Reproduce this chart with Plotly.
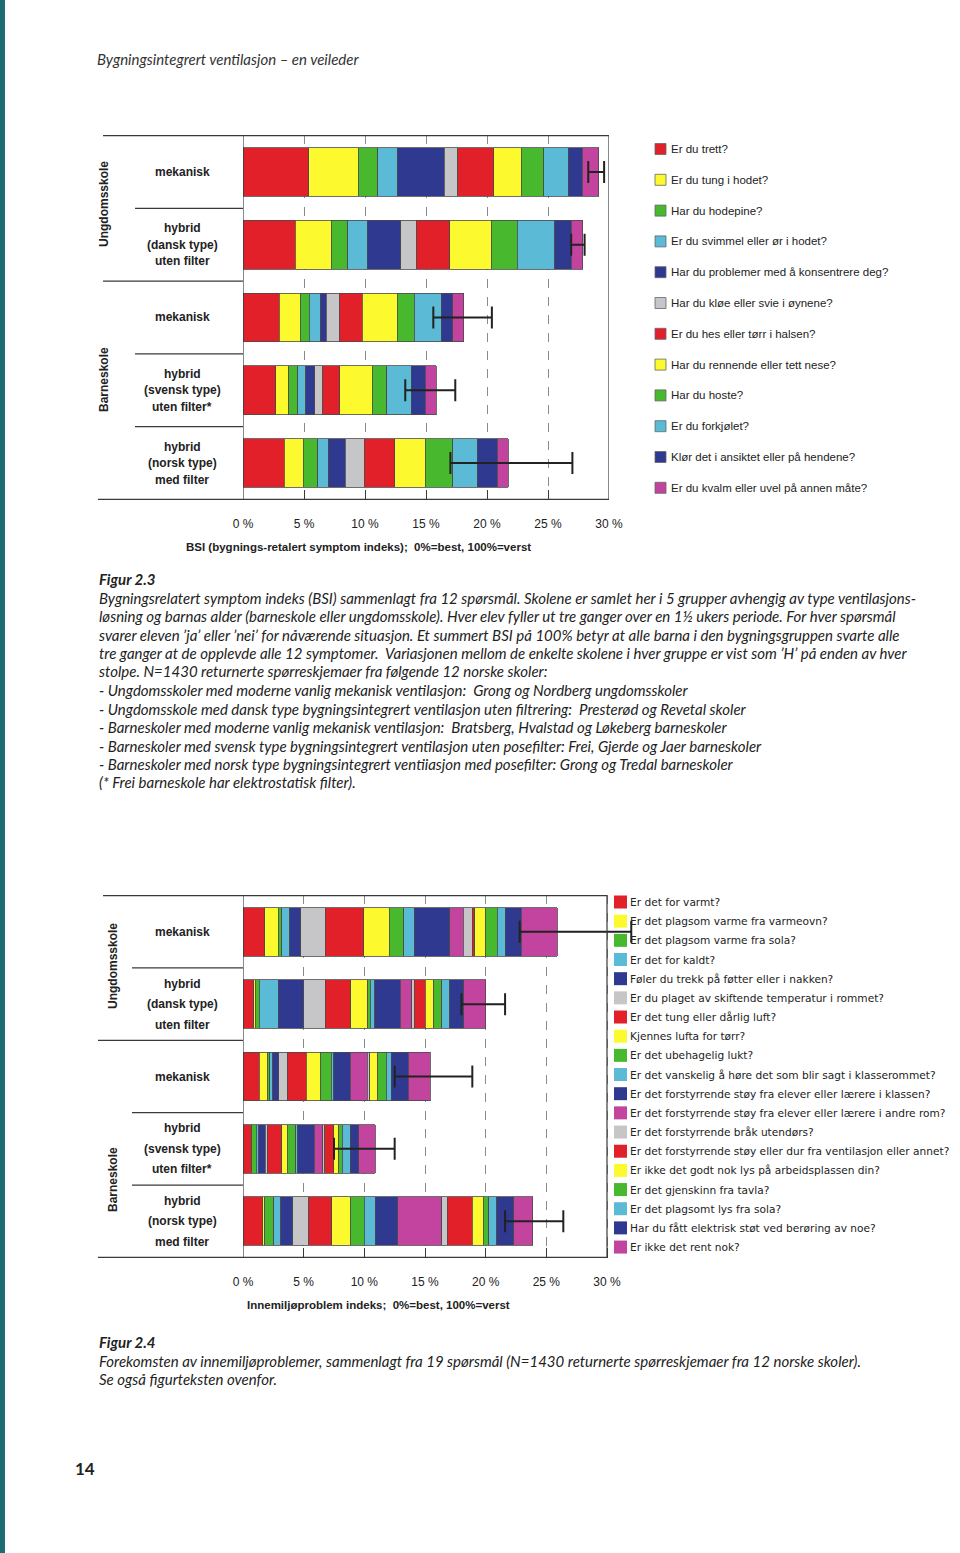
import plotly.graph_objects as go

W, H = 960, 1553

# ---------------- data ----------------
groups = ["U-mekanisk", "U-hybrid-dansk", "B-mekanisk", "B-hybrid-svensk", "B-hybrid-norsk"]
group_lines = [["mekanisk"], ["hybrid", "(dansk type)", "uten filter"], ["mekanisk"],
               ["hybrid", "(svensk type)", "uten filter*"], ["hybrid", "(norsk type)", "med filter"]]
school_levels = ["Ungdomsskole", "Barneskole"]

RED, YEL, GRN, CYA, BLU, GRY, MAG = "#E2202A", "#FCFA2E", "#48B92E", "#5BBAD5", "#2F3990", "#C6C6C8", "#C2449F"

# Figur 2.3 – BSI, % per symptom (order of groups above)
bsi_questions = ["Er du trett?", "Er du tung i hodet?", "Har du hodepine?", "Er du svimmel eller ør i hodet?",
                 "Har du problemer med å konsentrere deg?", "Har du kløe eller svie i øynene?",
                 "Er du hes eller tørr i halsen?", "Har du rennende eller tett nese?", "Har du hoste?",
                 "Er du forkjølet?", "Klør det i ansiktet eller på hendene?", "Er du kvalm eller uvel på annen måte?"]
bsi_colors = [RED, YEL, GRN, CYA, BLU, GRY, RED, YEL, GRN, CYA, BLU, MAG]
bsi_trett = [5.39, 4.27, 2.96, 2.68, 3.39]
bsi_tung = [4.07, 2.96, 1.75, 1.09, 1.56]
bsi_hodepine = [1.59, 1.37, 0.71, 0.71, 1.18]
bsi_svimmel = [1.58, 1.58, 0.90, 0.68, 0.87]
bsi_konsentrere = [3.86, 2.73, 0.49, 0.74, 1.37]
bsi_oyne = [1.12, 1.31, 1.09, 0.63, 1.56]
bsi_hals = [2.96, 2.74, 1.86, 1.40, 2.52]
bsi_nese = [2.24, 3.37, 2.90, 2.65, 2.49]
bsi_hoste = [1.86, 2.13, 1.37, 1.21, 2.27]
bsi_forkjolet = [2.00, 3.09, 2.22, 1.99, 2.00]
bsi_klor = [1.15, 1.35, 0.96, 1.15, 1.64]
bsi_kvalm = [1.34, 0.93, 0.90, 0.90, 0.88]
bsi_series = [bsi_trett, bsi_tung, bsi_hodepine, bsi_svimmel, bsi_konsentrere, bsi_oyne,
              bsi_hals, bsi_nese, bsi_hoste, bsi_forkjolet, bsi_klor, bsi_kvalm]
bsi_school_min = [28.3, 26.9, 15.6, 13.3, 17.0]
bsi_school_max = [29.6, 28.0, 20.4, 17.4, 27.0]

# Figur 2.4 – innemiljøproblem, % per question
inne_questions = ["Er det for varmt?", "Er det plagsom varme fra varmeovn?", "Er det plagsom varme fra sola?",
                  "Er det for kaldt?", "Føler du trekk på føtter eller i nakken?",
                  "Er du plaget av skiftende temperatur i rommet?", "Er det tung eller dårlig luft?",
                  "Kjennes lufta for tørr?", "Er det ubehagelig lukt?",
                  "Er det vanskelig å høre det som blir sagt i klasserommet?",
                  "Er det forstyrrende støy fra elever eller lærere i klassen?",
                  "Er det forstyrrende støy fra elever eller lærere i andre rom?",
                  "Er det forstyrrende bråk utendørs?", "Er det forstyrrende støy eller dur fra ventilasjon eller annet?",
                  "Er ikke det godt nok lys på arbeidsplassen din?", "Er det gjenskinn fra tavla?",
                  "Er det plagsomt lys fra sola?", "Har du fått elektrisk støt ved berøring av noe?",
                  "Er ikke det rent nok?"]
inne_colors = [RED, YEL, GRN, CYA, BLU, GRY, RED, YEL, GRN, CYA, BLU, MAG, GRY, RED, YEL, GRN, CYA, BLU, MAG]
inne_varmt = [1.81, 0.88, 1.34, 0.66, 1.62]
inne_varmeovn = [1.10, 0.11, 0.66, 0.08, 0.19]
inne_varme_sol = [0.27, 0.33, 0.19, 0.36, 0.71]
inne_kaldt = [0.66, 1.59, 0.25, 0.19, 0.60]
inne_trekk = [0.93, 2.09, 0.52, 0.55, 0.99]
inne_skiftende = [2.00, 1.78, 0.69, 0.14, 1.32]
inne_tung_luft = [3.18, 2.09, 1.56, 1.21, 1.87]
inne_torr = [2.09, 1.40, 1.15, 0.44, 1.54]
inne_lukt = [1.21, 0.22, 0.93, 0.71, 1.15]
inne_hore = [0.85, 0.38, 0.19, 0.19, 0.91]
inne_stoy_klasse = [2.94, 2.11, 1.37, 1.34, 1.84]
inne_stoy_andre = [1.10, 0.91, 1.40, 0.71, 3.62]
inne_brak_ute = [0.74, 0.22, 0.16, 0.16, 0.47]
inne_stoy_vent = [0.22, 0.91, 0.05, 0.74, 2.06]
inne_lys = [0.91, 0.69, 0.66, 0.41, 0.91]
inne_gjenskinn = [0.93, 0.66, 0.69, 0.27, 0.47]
inne_lys_sol = [0.66, 0.69, 0.41, 0.66, 0.66]
inne_stot = [1.34, 1.12, 1.40, 0.71, 1.37]
inne_rent = [2.96, 1.81, 1.81, 1.37, 1.56]
inne_series = [inne_varmt, inne_varmeovn, inne_varme_sol, inne_kaldt, inne_trekk, inne_skiftende,
               inne_tung_luft, inne_torr, inne_lukt, inne_hore, inne_stoy_klasse, inne_stoy_andre,
               inne_brak_ute, inne_stoy_vent, inne_lys, inne_gjenskinn, inne_lys_sol, inne_stot, inne_rent]
inne_school_min = [22.8, 18.0, 12.5, 7.5, 21.6]
inne_school_max = [32.0, 21.6, 18.9, 12.5, 26.4]

tick_vals = [0, 5, 10, 15, 20, 25, 30]
tick_text = ["0 %", "5 %", "10 %", "15 %", "20 %", "25 %", "30 %"]

caption1 = [
    "Bygningsrelatert symptom indeks (BSI) sammenlagt fra 12 spørsmål. Skolene er samlet her i 5 grupper avhengig av type ventilasjons-",
    "løsning og barnas alder (barneskole eller ungdomsskole). Hver elev fyller ut tre ganger over en 1½ ukers periode. For hver spørsmål",
    "svarer eleven ’ja’ eller ’nei’ for nåværende situasjon. Et summert BSI på 100% betyr at alle barna i den bygningsgruppen svarte alle",
    "tre ganger at de opplevde alle 12 symptomer.  Variasjonen mellom de enkelte skolene i hver gruppe er vist som ’H’ på enden av hver",
    "stolpe. N=1430 returnerte spørreskjemaer fra følgende 12 norske skoler:",
    "- Ungdomsskoler med moderne vanlig mekanisk ventilasjon:  Grong og Nordberg ungdomsskoler",
    "- Ungdomsskole med dansk type bygningsintegrert ventilasjon uten filtrering:  Presterød og Revetal skoler",
    "- Barneskoler med moderne vanlig mekanisk ventilasjon:  Bratsberg, Hvalstad og Løkeberg barneskoler",
    "- Barneskoler med svensk type bygningsintegrert ventilasjon uten posefilter: Frei, Gjerde og Jaer barneskoler",
    "- Barneskoler med norsk type bygningsintegrert ventiiasjon med posefilter: Grong og Tredal barneskoler",
    "(* Frei barneskole har elektrostatisk filter).",
]
caption2 = [
    "Forekomsten av innemiljøproblemer, sammenlagt fra 19 spørsmål (N=1430 returnerte spørreskjemaer fra 12 norske skoler).",
    "Se også figurteksten ovenfor.",
]

# ---------------- helpers ----------------
def px(x):
    return x / W

def py(y):
    return 1 - y / H

LINE = "#3a3a3a"
TXT = "#222222"
ARIAL = "Liberation Sans, Arial, sans-serif"
CAPF = "Lato, sans-serif"

fig = go.Figure()
shapes, annos = [], []

charts = [
    dict(series=bsi_series, colors=bsi_colors, qs=bsi_questions, lo=bsi_school_min, hi=bsi_school_max,
         xa="x", ya="y", xr=[0, 30], x0=243, x30=609, top=135, bot=500,
         title="BSI (bygnings-retalert symptom indeks);  0%=best, 100%=verst", title_x=358, title_y=547,
         short_x=135, long_x=103, lvl_x=104, lvl_y=[204, 380], line_gap=16.5,
         leg_sq_x=655, leg_sq=11, leg_y0=149, leg_step=30.8, leg_font=11.5,
         leg_family=ARIAL, leg_outline=True),
    dict(series=inne_series, colors=inne_colors, qs=inne_questions, lo=inne_school_min, hi=inne_school_max,
         xa="x2", ya="y2", xr=[0, 32.5], x0=243, x30=607, top=895, bot=1258,
         title="Innemiljøproblem indeks;  0%=best, 100%=verst", title_x=378, title_y=1305,
         short_x=132, long_x=103, lvl_x=113, lvl_y=[966, 1180], line_gap=20.5,
         leg_sq_x=614, leg_sq=13, leg_y0=902, leg_step=19.17, leg_font=10.6,
         leg_family="DejaVu Sans, Verdana, sans-serif", leg_outline=False),
]

for ci, c in enumerate(charts):
    totals = [sum(s[i] for s in c["series"]) for i in range(len(groups))]
    for name, vals, col in zip(c["qs"], c["series"], c["colors"]):
        fig.add_trace(go.Bar(x=vals, y=groups, orientation="h", name=name,
                             marker=dict(color=col, line=dict(color="#4a4a4a", width=0.8)),
                             xaxis=c["xa"], yaxis=c["ya"], showlegend=False))
    fig.add_trace(go.Scatter(x=totals, y=groups, mode="markers", xaxis=c["xa"], yaxis=c["ya"],
                             marker=dict(size=2, opacity=0), showlegend=False, cliponaxis=False,
                             error_x=dict(type="data", symmetric=False,
                                          array=[h - t for h, t in zip(c["hi"], totals)],
                                          arrayminus=[t - l for t, l in zip(totals, c["lo"])],
                                          color="#222222", thickness=2, width=11)))

    ppp = (c["x30"] - c["x0"]) / 30.0
    dom_r = c["x0"] + c["xr"][1] * ppp
    ax_key = "xaxis" if ci == 0 else "xaxis2"
    ay_key = "yaxis" if ci == 0 else "yaxis2"
    fig.update_layout({
        ax_key: dict(domain=[px(c["x0"]), px(dom_r)], range=c["xr"], anchor=c["ya"], automargin=False,
                     tickvals=tick_vals, ticktext=tick_text, ticks="inside", ticklen=10,
                     tickcolor=LINE, tickwidth=1, ticklabelstandoff=15,
                     showgrid=True, gridcolor="#8a8a8a", griddash="dash", gridwidth=1,
                     showline=False, zeroline=False,
                     tickfont=dict(family=ARIAL, size=12, color=TXT)),
        ay_key: dict(domain=[py(c["bot"]), py(c["top"])], type="category", categoryarray=groups,
                     categoryorder="array", autorange="reversed", showticklabels=False, automargin=False,
                     ticks="", showgrid=False, zeroline=False, showline=False, anchor=c["xa"]),
    })

    yref = c["ya"]
    xref = c["xa"]
    # plot frame
    for (xx0, yy0, xx1, yy1) in [(0, -0.5, 30, -0.5), (0, 4.5, 30, 4.5), (0, -0.5, 0, 4.5), (30, -0.5, 30, 4.5)]:
        shapes.append(dict(type="line", xref=xref, yref=yref, x0=xx0, x1=xx1, y0=yy0, y1=yy1,
                           line=dict(color=LINE, width=1.2)))
    # table lines on the left
    table = [(-0.5, c["long_x"]), (0.5, c["short_x"]), (1.5, 98 if ci == 1 else c["long_x"]),
             (2.5, c["short_x"]), (3.5, c["short_x"]), (4.5, 98)]
    for yy, xs in table:
        shapes.append(dict(type="line", xref="paper", yref=yref, x0=px(xs), x1=px(c["x0"]), y0=yy, y1=yy,
                           line=dict(color=LINE, width=1.2)))
    # group labels
    for gi, lines in enumerate(group_lines):
        n = len(lines)
        for li, t in enumerate(lines):
            annos.append(dict(text=t, xref="paper", yref=yref, x=px(182), y=gi,
                              yshift=-(li - (n - 1) / 2) * c["line_gap"], showarrow=False,
                              xanchor="center", yanchor="middle",
                              font=dict(family=ARIAL, size=12, color=TXT, weight="bold")))
    for lv, ycen in zip(school_levels, c["lvl_y"]):
        annos.append(dict(text=lv, xref="paper", yref="paper", x=px(c["lvl_x"]), y=py(ycen),
                          textangle=-90, showarrow=False, xanchor="center", yanchor="middle",
                          font=dict(family=ARIAL, size=12, color=TXT, weight="bold")))
    # axis title
    annos.append(dict(text=c["title"], xref="paper", yref="paper", x=px(c["title_x"]), y=py(c["title_y"]),
                      showarrow=False, xanchor="center", yanchor="middle",
                      font=dict(family=ARIAL, size=11.5, color=TXT, weight="bold")))
    # legend
    s = c["leg_sq"]
    for k, (q, col) in enumerate(zip(c["qs"], c["colors"])):
        yc = c["leg_y0"] + k * c["leg_step"]
        shapes.append(dict(type="rect", xref="paper", yref="paper",
                           x0=px(c["leg_sq_x"]), x1=px(c["leg_sq_x"] + s), y0=py(yc - s / 2), y1=py(yc + s / 2),
                           fillcolor=col, line=dict(color="#666666", width=0.8 if c["leg_outline"] else 0)))
        annos.append(dict(text=q, xref="paper", yref="paper", x=px(c["leg_sq_x"] + s + (3 if ci == 0 else 1)),
                          y=py(yc), showarrow=False, xanchor="left", yanchor="middle",
                          font=dict(family=c["leg_family"], size=c["leg_font"], color=TXT)))

# page furniture
shapes.append(dict(type="rect", xref="paper", yref="paper", x0=0, x1=px(5), y0=0, y1=1,
                   fillcolor="#1d6c73", line=dict(width=0), layer="below"))
annos.append(dict(text="Bygningsintegrert ventilasjon – en veileder", xref="paper", yref="paper",
                  x=px(95), y=py(59), showarrow=False, xanchor="left", yanchor="middle",
                  font=dict(family=CAPF, size=15, color="#333333", style="italic")))
annos.append(dict(text="14", xref="paper", yref="paper", x=px(85), y=py(1468), showarrow=False,
                  xanchor="center", yanchor="middle",
                  font=dict(family=CAPF, size=17, color="#222222", weight="bold")))

def caption(title, lines, y_title, step=18.5):
    annos.append(dict(text=title, xref="paper", yref="paper", x=px(97), y=py(y_title), showarrow=False,
                      xanchor="left", yanchor="middle",
                      font=dict(family=CAPF, size=15, color="#222222", style="italic", weight="bold")))
    for i, t in enumerate(lines):
        annos.append(dict(text=t, xref="paper", yref="paper", x=px(97), y=py(y_title + (i + 1) * step),
                          showarrow=False, xanchor="left", yanchor="middle",
                          font=dict(family=CAPF, size=15, color="#222222", style="italic")))

caption("Figur 2.3", caption1, 579)
caption("Figur 2.4", caption2, 1342)

fig.update_layout(width=W, height=H, margin=dict(l=0, r=0, t=0, b=0, pad=0, autoexpand=False),
                  paper_bgcolor="white", plot_bgcolor="white",
                  barmode="stack", bargap=0.33, showlegend=False,
                  shapes=shapes, annotations=annos)

fig.write_html("out.html", config={"responsive": False, "displayModeBar": False},
               post_script="document.body.style.margin='0';document.documentElement.style.overflow='hidden';")
